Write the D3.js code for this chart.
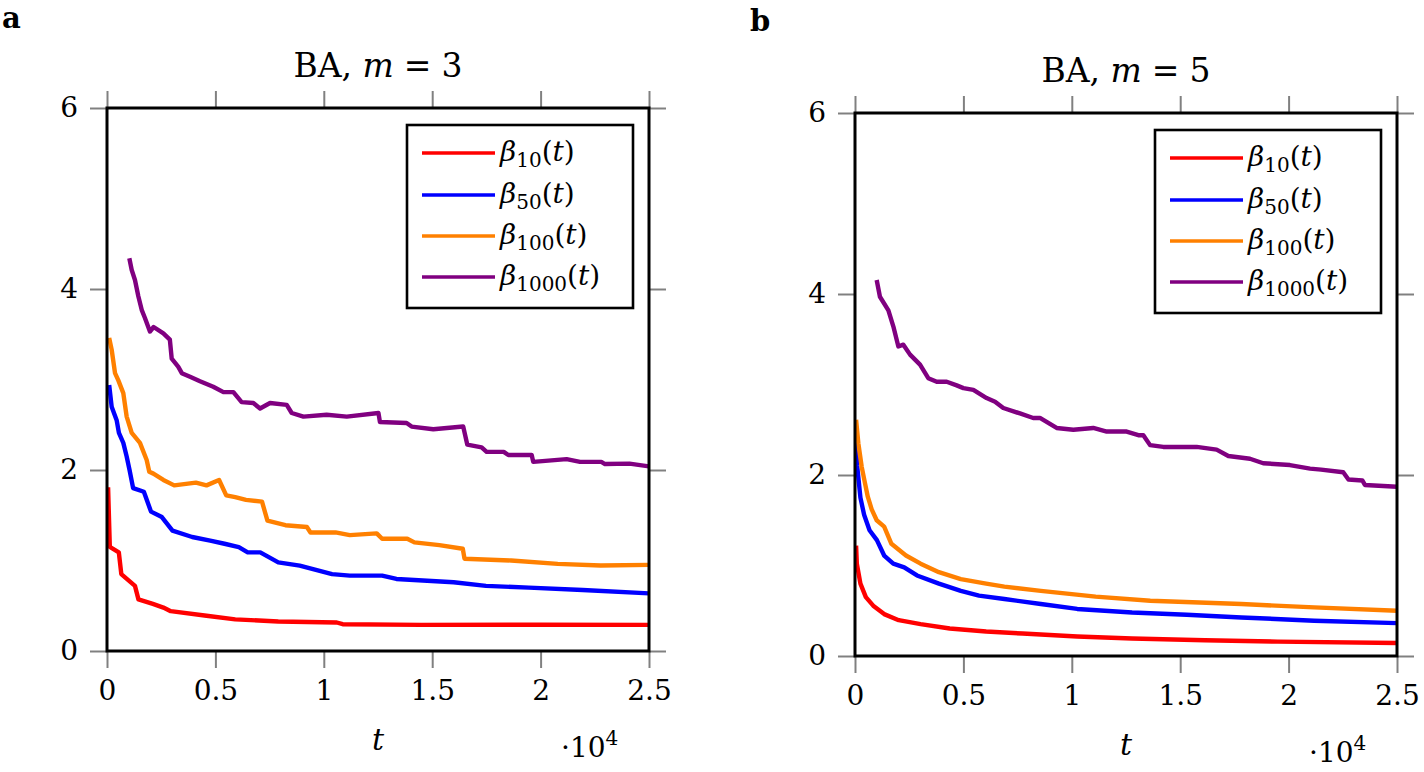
<!DOCTYPE html>
<html>
<head>
<meta charset="utf-8">
<script src="https://cdn.jsdelivr.net/npm/d3@7"></script>
<style>
  html, body { margin: 0; padding: 0; background: #fff; }
  svg { display: block; }
  text { font-family: "DejaVu Serif", "Liberation Serif", serif; fill: #000; }
</style>
</head>
<body>
<svg id="chart" width="1424" height="772"></svg>
<script>
// ---------- data ----------
const xTickValues = [0, 5000, 10000, 15000, 20000, 25000];
const xTickLabels = ["0", "0.5", "1", "1.5", "2", "2.5"];
const yTickValues = [0, 2, 4, 6];
const yTickLabels = ["0", "2", "4", "6"];
const seriesNames = ["10", "50", "100", "1000"];
const seriesColors = ["#ff0000", "#0000ff", "#ff8000", "#800080"];
const panelTitles = ["3", "5"];
const panelLetters = ["a", "b"];

// panel a (BA, m = 3): [t, beta]
const a_beta10 = [[50,1.81],[130,1.15],[545,1.09],[660,0.85],[900,0.8],[1290,0.72],[1450,0.57],[2115,0.52],[2600,0.48],[2940,0.44],[4590,0.39],[5915,0.35],[7900,0.326],[10600,0.315],[10870,0.296],[14500,0.289],[20000,0.29],[25000,0.289]];
const a_beta50 = [[100,2.94],[215,2.70],[445,2.55],[550,2.41],[752,2.30],[907,2.15],[1040,2.0],[1205,1.80],[1700,1.76],[2030,1.54],[2530,1.48],[3020,1.33],[3930,1.26],[4760,1.22],[5420,1.185],[6080,1.148],[6490,1.09],[7070,1.09],[7900,0.98],[8890,0.944],[10380,0.85],[11200,0.833],[12690,0.833],[13350,0.796],[15990,0.76],[17480,0.72],[19460,0.70],[21940,0.674],[25000,0.637]];
const a_beta100 = [[100,3.46],[215,3.33],[370,3.07],[523,2.99],[752,2.85],[907,2.59],[1140,2.41],[1520,2.30],[1830,2.11],[1950,1.98],[2140,1.96],[2600,1.89],[3100,1.83],[4100,1.86],[4590,1.83],[5170,1.89],[5500,1.72],[5915,1.70],[6410,1.67],[7150,1.65],[7400,1.44],[8230,1.39],[9220,1.37],[9385,1.31],[10540,1.31],[11200,1.28],[12440,1.30],[12690,1.24],[13850,1.24],[14180,1.20],[15330,1.17],[16410,1.13],[16490,1.02],[18640,1.0],[20790,0.963],[22770,0.944],[25000,0.952]];
const a_beta1000 = [[1030,4.34],[1140,4.21],[1290,4.10],[1445,3.92],[1600,3.77],[1750,3.68],[1980,3.53],[2150,3.58],[2600,3.51],[2900,3.44],[2985,3.23],[3290,3.14],[3450,3.07],[3830,3.03],[4290,2.98],[4900,2.92],[5370,2.86],[5830,2.86],[6210,2.75],[6750,2.74],[7060,2.68],[7520,2.74],[8290,2.72],[8520,2.63],[9060,2.59],[10130,2.61],[11060,2.59],[12520,2.63],[12590,2.53],[13820,2.52],[14050,2.48],[15050,2.45],[16430,2.48],[16620,2.28],[17280,2.25],[17510,2.20],[18300,2.20],[18510,2.166],[19590,2.166],[19660,2.09],[21200,2.12],[21820,2.09],[22800,2.09],[22970,2.066],[24100,2.07],[25000,2.04]];

// panel b (BA, m = 5): [t, beta]
const b_beta10 = [[50,1.22],[84,1.02],[250,0.80],[500,0.65],[840,0.556],[1345,0.463],[2017,0.396],[3026,0.352],[4370,0.304],[6050,0.27],[7730,0.248],[10250,0.215],[12780,0.193],[16140,0.174],[19500,0.159],[25000,0.144]];
const b_beta50 = [[50,2.45],[100,2.1],[250,1.75],[420,1.56],[670,1.39],[1010,1.28],[1345,1.11],[1765,1.02],[2270,0.98],[2860,0.89],[3870,0.80],[4880,0.72],[5720,0.667],[6890,0.63],[8570,0.574],[10250,0.52],[12780,0.48],[15300,0.456],[17820,0.426],[21180,0.39],[25000,0.363]];
const b_beta100 = [[50,2.61],[154,2.35],[309,2.09],[460,1.91],[590,1.76],[770,1.62],[1000,1.5],[1345,1.43],[1680,1.24],[2350,1.11],[3026,1.02],[3870,0.926],[4880,0.85],[6050,0.80],[6890,0.767],[8570,0.72],[11100,0.656],[13620,0.61],[17820,0.574],[21180,0.537],[25000,0.5]];
const b_beta1000 = [[1000,4.155],[1150,3.97],[1540,3.82],[1770,3.64],[2000,3.42],[2230,3.44],[2540,3.33],[3000,3.22],[3380,3.07],[3770,3.03],[4230,3.03],[4690,2.99],[5000,2.96],[5460,2.94],[6070,2.85],[6460,2.81],[6840,2.74],[7610,2.68],[8220,2.63],[8530,2.63],[9300,2.52],[10070,2.50],[10990,2.52],[11610,2.48],[12530,2.48],[13070,2.44],[13300,2.44],[13610,2.33],[14220,2.31],[15760,2.31],[16680,2.28],[17220,2.21],[18220,2.18],[18830,2.13],[20060,2.11],[20990,2.07],[21500,2.06],[22520,2.03],[22760,1.95],[23400,1.94],[23520,1.89],[25000,1.87]];

const panelData = [
  [a_beta10, a_beta50, a_beta100, a_beta1000],
  [b_beta10, b_beta50, b_beta100, b_beta1000]
];

// ---------- layout ----------
const panels = [
  { left: 107, right: 649, top: 108, bottom: 651, letterX: 2, letterY: 28 },
  { left: 855, right: 1397, top: 113, bottom: 656, letterX: 750, letterY: 31 }
];

const svg = d3.select("#chart");
const TICK = 17;
const FS = 28;
const FONT = "DejaVu Serif, Liberation Serif, serif";

panels.forEach((p, pi) => {
  const x = d3.scaleLinear().domain([0, 25000]).range([p.left, p.right]);
  const y = d3.scaleLinear().domain([0, 6]).range([p.bottom, p.top]);
  const g = svg.append("g");

  // panel letter
  g.append("text").attr("x", p.letterX).attr("y", p.letterY)
    .attr("font-size", 29).attr("font-weight", "bold").text(panelLetters[pi]);

  // title
  const title = g.append("text").attr("x", (p.left + p.right) / 2).attr("y", p.top - 31)
    .attr("text-anchor", "middle").attr("font-size", 33);
  title.append("tspan").text("BA, ");
  title.append("tspan").attr("font-style", "italic").text("m");
  title.append("tspan").attr("dx", 10).text("=");
  title.append("tspan").attr("dx", 10).text(panelTitles[pi]);

  // axes (ticks outside, gray)
  const styleAxis = sel => {
    sel.select(".domain").remove();
    sel.selectAll(".tick line").attr("stroke", "#808080").attr("stroke-width", 2);
    sel.selectAll(".tick text").attr("font-size", FS).attr("font-family", FONT).attr("fill", "#000");
  };
  const xb = g.append("g").attr("transform", `translate(0,${p.bottom})`)
    .call(d3.axisBottom(x).tickValues(xTickValues).tickSize(TICK).tickPadding(12)
      .tickFormat((d, i) => xTickLabels[i]));
  styleAxis(xb);
  const xt = g.append("g").attr("transform", `translate(0,${p.top})`)
    .call(d3.axisTop(x).tickValues(xTickValues).tickSize(TICK).tickFormat(""));
  styleAxis(xt);
  const yl = g.append("g").attr("transform", `translate(${p.left},0)`)
    .call(d3.axisLeft(y).tickValues(yTickValues).tickSize(TICK).tickPadding(12)
      .tickFormat((d, i) => yTickLabels[i]));
  styleAxis(yl);
  const yr = g.append("g").attr("transform", `translate(${p.right},0)`)
    .call(d3.axisRight(y).tickValues(yTickValues).tickSize(TICK).tickFormat(""));
  styleAxis(yr);

  // clip
  const clipId = "clip" + pi;
  svg.append("clipPath").attr("id", clipId).append("rect")
    .attr("x", p.left).attr("y", p.top).attr("width", p.right - p.left).attr("height", p.bottom - p.top);

  // lines
  const line = d3.line().x(d => x(d[0])).y(d => y(d[1]));
  panelData[pi].forEach((s, si) => {
    g.append("path").attr("d", line(s)).attr("fill", "none")
      .attr("stroke", seriesColors[si]).attr("stroke-width", 4.4)
      .attr("stroke-linejoin", "round").attr("clip-path", `url(#${clipId})`);
  });

  // frame
  g.append("rect").attr("x", p.left).attr("y", p.top)
    .attr("width", p.right - p.left).attr("height", p.bottom - p.top)
    .attr("fill", "none").attr("stroke", "#000").attr("stroke-width", 3);

  // x label
  g.append("text").attr("x", (p.left + p.right) / 2).attr("y", p.bottom + 99)
    .attr("text-anchor", "middle").attr("font-size", 30).attr("font-style", "italic").text("t");

  // ·10^4
  const mult = g.append("text").attr("x", p.right - 88).attr("y", p.bottom + 106).attr("font-size", FS);
  mult.append("tspan").text("·10");
  mult.append("tspan").attr("dy", -12).attr("font-size", 20).text("4");

  // legend
  const lx = p.right - 242, ly = p.top + 17, lw = 226, lh = 183;
  g.append("rect").attr("x", lx).attr("y", ly).attr("width", lw).attr("height", lh)
    .attr("fill", "#fff").attr("stroke", "#000").attr("stroke-width", 2.6);
  const offs = [28, 70, 111, 152];
  seriesNames.forEach((n, i) => {
    const yy = ly + offs[i];
    g.append("line").attr("x1", lx + 15).attr("x2", lx + 88).attr("y1", yy).attr("y2", yy)
      .attr("stroke", seriesColors[i]).attr("stroke-width", 3.4);
    const t = g.append("text").attr("x", lx + 93).attr("y", yy + 8).attr("font-size", 28);
    t.append("tspan").attr("font-style", "italic").text("β");
    t.append("tspan").attr("dy", 6).attr("font-size", 20).text(n);
    t.append("tspan").attr("dy", -6).text("(");
    t.append("tspan").attr("font-style", "italic").text("t");
    t.append("tspan").text(")");
  });
});
</script>
</body>
</html>
